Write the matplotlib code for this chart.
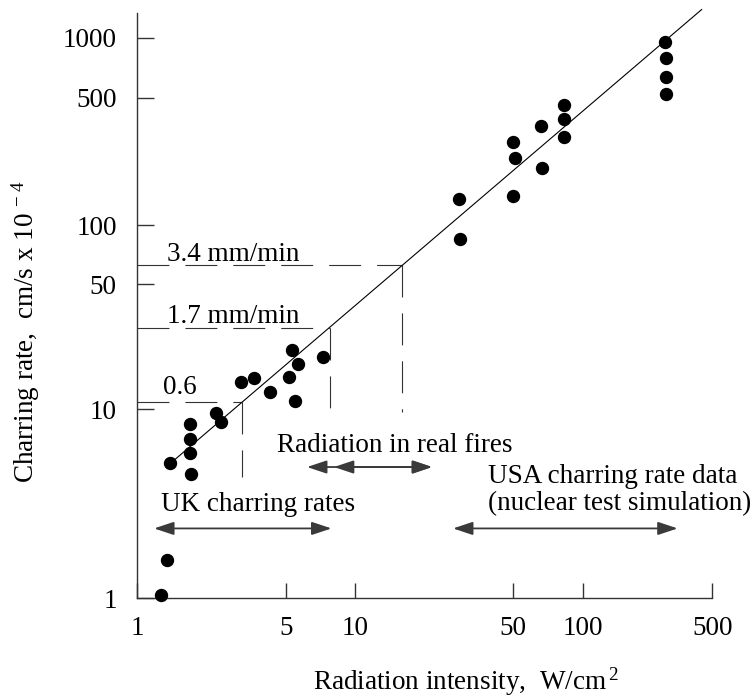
import numpy as np
import matplotlib
matplotlib.use("Agg")
import matplotlib.pyplot as plt

plt.rcParams['font.family'] = ['Liberation Serif', 'DejaVu Serif']
plt.rcParams['mathtext.fontset'] = 'custom'
plt.rcParams['mathtext.rm'] = 'Liberation Serif'
plt.rcParams['mathtext.default'] = 'regular'
plt.rcParams['lines.scale_dashes'] = False

# hand drawn log axes: tick values and where they sit along each axis (0..1)
x_ticks = [1, 5, 10, 50, 100, 500]
x_tick_frac = [0.0, 0.2581, 0.3786, 0.6539, 0.7746, 1.0]
y_ticks = [1, 10, 50, 100, 500, 1000]
y_tick_frac = [0.0, 0.3233, 0.5362, 0.6375, 0.8548, 0.9580]
y_top = 1330

# UK charring rate points
uk_x = [1.29, 1.38, 1.43, 1.78, 1.78, 1.78, 1.80, 2.35, 2.49, 3.08, 3.55, 4.22, 5.15, 5.31, 5.49, 5.64, 7.24]
uk_y = [1.04, 1.59, 5.17, 8.33, 6.92, 5.88, 4.54, 9.49, 8.57, 14.2, 15.0, 12.4, 15.2, 21.4, 11.1, 18.0, 19.6]

# USA charring rate points
usa_x = [28.8, 29.1, 49.7, 50.7, 49.7, 65.7, 66.4, 83.2, 83.2, 83.2, 278, 281, 281, 281]
usa_y = [140, 84.6, 287, 234, 144, 350, 205, 458, 381, 305, 951, 791, 636, 522]

# fitted line
fit_x = [1.457, 438]
fit_y = [5.25, 1379]

# dashed guides: corner on the fit line and lower end of the drop line
guide_labels = ['0.6', '1.7 mm/min', '3.4 mm/min']
guide_x = [3.11, 7.81, 16.2]
guide_y = [10.9, 28.5, 62.6]
guide_drop = [4.39, 9.07, 9.68]
guide_text_x = [1.326, 1.38, 1.38]
guide_text_y = [12.1, 30.2, 65.9]

# range arrows
fires_from = [6.19, 8.10]
fires_to = 21.9
fires_y = 4.94
uk_range = (1.20, 7.90)
usa_range = (27.1, 325)
range_y = 2.34


def warped_log(vals, fracs):
    lv = np.log10(np.asarray(vals, float))
    fr = np.asarray(fracs, float)
    s0 = (fr[1] - fr[0]) / (lv[1] - lv[0])
    s1 = (fr[-1] - fr[-2]) / (lv[-1] - lv[-2])

    def fwd(v):
        l = np.log10(np.maximum(np.asarray(v, float), 1e-12))
        return np.where(l < lv[0], fr[0] + (l - lv[0]) * s0,
                        np.where(l > lv[-1], fr[-1] + (l - lv[-1]) * s1,
                                 np.interp(l, lv, fr)))

    def inv(f):
        f = np.asarray(f, float)
        l = np.where(f < fr[0], lv[0] + (f - fr[0]) / s0,
                     np.where(f > fr[-1], lv[-1] + (f - fr[-1]) / s1,
                              np.interp(f, fr, lv)))
        return 10 ** l

    return fwd, inv


fs = 19.5
grey = '#333333'

fig = plt.figure(figsize=(7.56, 6.99), dpi=100)
ax = fig.add_axes([0.18161, 0.14406, 0.76058, 0.83777])

ax.set_xscale('function', functions=warped_log(x_ticks, x_tick_frac))
ax.set_yscale('function', functions=warped_log(y_ticks, y_tick_frac))
ax.set_xlim(1, 500)
ax.set_ylim(1, y_top)

ax.plot(fit_x, fit_y, color='black', lw=0.8, clip_on=False, zorder=3)

for lab, cx, cy, bot, tx, ty in zip(guide_labels, guide_x, guide_y, guide_drop, guide_text_x, guide_text_y):
    ax.plot([1, cx], [cy, cy], color=grey, lw=0.8, dashes=(23, 11.5), zorder=2)
    ax.plot([cx, cx], [cy, bot], color=grey, lw=0.8, dashes=(23, 11.5), zorder=2)
    ax.text(tx, ty, lab, fontsize=fs, ha='left', va='baseline')

ax.plot(uk_x, uk_y, 'o', color='black', ms=8.6, clip_on=False, zorder=4)
ax.plot(usa_x, usa_y, 'o', color='black', ms=8.6, clip_on=False, zorder=4)

head = '<|-|>,head_length=1.2,head_width=0.4'
arrow_kw = dict(color='#3a3a3a', lw=1.3, shrinkA=0, shrinkB=0, mutation_scale=10)
for x0 in fires_from:
    ax.annotate('', xy=(x0, fires_y), xytext=(fires_to, fires_y),
                arrowprops=dict(arrowstyle=head, **arrow_kw))
ax.annotate('', xy=(uk_range[0], range_y), xytext=(uk_range[1], range_y),
            arrowprops=dict(arrowstyle=head, **arrow_kw))
ax.annotate('', xy=(usa_range[0], range_y), xytext=(usa_range[1], range_y),
            arrowprops=dict(arrowstyle=head, **arrow_kw))

ax.text(4.54, 5.93, 'Radiation in real fires', fontsize=fs, ha='left', va='baseline')
ax.text(1.289, 2.90, 'UK charring rates', fontsize=fs, ha='left', va='baseline')
ax.text(38.7, 4.07, 'USA charring rate data', fontsize=fs, ha='left', va='baseline')
ax.text(38.7, 2.93, '(nuclear test simulation)', fontsize=fs, ha='left', va='baseline')

ax.set_xticks(x_ticks)
ax.set_xticklabels([str(t) for t in x_ticks])
ax.set_yticks(y_ticks)
ax.set_yticklabels([str(t) for t in y_ticks])
ax.minorticks_off()

ax.spines['top'].set_visible(False)
ax.spines['right'].set_visible(False)
for s in ['left', 'bottom']:
    ax.spines[s].set_color(grey)
    ax.spines[s].set_linewidth(1.0)
ax.tick_params(axis='x', direction='in', length=11, width=1.0, color=grey, pad=12.5, labelsize=fs)
ax.tick_params(axis='y', direction='in', length=12, width=1.0, color=grey, pad=14.8, labelsize=fs)

fig.text(313.3 / 756, 1 - 690 / 699, 'Radiation intensity,  W/cm$^{\\,2}$',
         fontsize=fs, ha='left', va='baseline')
fig.text(26 / 756, 1 - 332 / 699, 'Charring rate,  cm/s x 10$^{\\,-4}$',
         fontsize=fs, rotation=90, ha='center', va='center')

fig.savefig('out.png', dpi=100)
